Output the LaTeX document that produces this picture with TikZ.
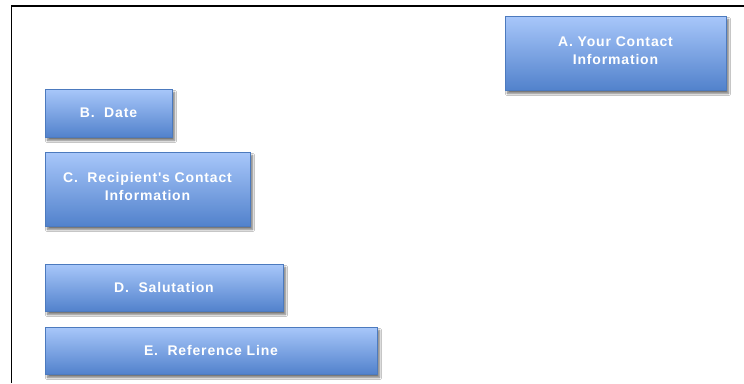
\documentclass[tikz,border=0pt]{standalone}
\usepackage{fontspec}
\setmainfont{Liberation Sans}
\newfontfamily\boxfont[LetterSpace=6]{Liberation Sans}
\usetikzlibrary{shadows.blur}
\definecolor{boxtop}{RGB}{168,199,250}
\definecolor{boxbot}{RGB}{82,130,204}
\definecolor{boxline}{RGB}{76,122,190}
\tikzset{
  sect/.style={draw=boxline, line width=0.8pt, top color=boxtop, bottom color=boxbot,
    rectangle, inner sep=0pt, align=center, text=white,
    font=\boxfont\fontsize{14}{18}\selectfont\bfseries,
    blur shadow={shadow xshift=2.5pt, shadow yshift=-3.5pt, shadow blur steps=6, shadow opacity=55}},
  frameline/.style={line width=1.8pt, black}
}
\begin{document}
\begin{tikzpicture}[x=1pt,y=-1pt]
\useasboundingbox (0,0) rectangle (744,383);
\fill[white] (0,0) rectangle (744,383);
\coordinate (fc) at (11.5,6);
\coordinate (fr) at (744,6);
\coordinate (fb) at (11.5,383);
\draw[frameline] (fb) -- (fc) -- (fr);
\node[sect, minimum width=221pt, minimum height=74pt] (A) at (615.5,53) {A. Your Contact\\Information\\[-13pt]\mbox{}};
\node[sect, minimum width=127pt, minimum height=48pt] (B) at (108.5,113) {B.\ \ Date};
\node[sect, minimum width=205pt, minimum height=74pt] (C) at (147.5,189) {C.\ \ Recipient's Contact\\Information\\[-13pt]\mbox{}};
\node[sect, minimum width=238pt, minimum height=47pt] (D) at (164,287.5) {D.\ \ Salutation};
\node[sect, minimum width=332pt, minimum height=47pt] (E) at (211,350.5) {E.\ \ Reference Line};
\end{tikzpicture}
\end{document}
